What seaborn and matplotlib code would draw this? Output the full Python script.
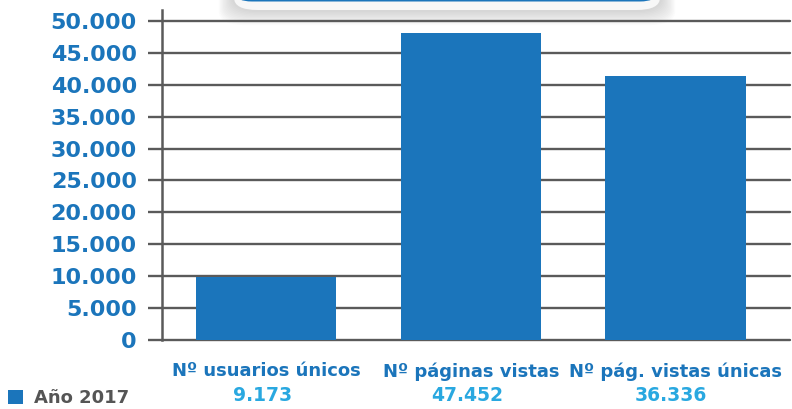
import matplotlib
matplotlib.use("Agg")
import matplotlib.pyplot as plt
import seaborn as sns
from matplotlib.patches import FancyBboxPatch, Patch

# data
categorias = ["Nº usuarios únicos", "Nº páginas vistas", "Nº pág. vistas únicas"]
valores = [9900, 48100, 41400]
etiquetas_valor = ["9.173", "47.452", "36.336"]
serie = "Año 2017"
yticks = [0, 5000, 10000, 15000, 20000, 25000, 30000, 35000, 40000, 45000, 50000]
ytick_labels = ["0", "5.000", "10.000", "15.000", "20.000", "25.000", "30.000",
                "35.000", "40.000", "45.000", "50.000"]

azul = "#1b75bb"
celeste = "#29a8e0"
gris = "#5a5a5a"

sns.set_theme(style="white")
plt.rcParams['font.family'] = ['DejaVu Sans']

W, H = 792, 409
fig = plt.figure(figsize=(W / 100, H / 100), dpi=100)
ax = fig.add_axes([162 / W, 1 - 340 / H, 628 / W, 330 / H])
ax.patch.set_alpha(0)

df_barras = {"cat": categorias, "val": valores, "serie": [serie] * len(valores)}
sns.barplot(x="cat", y="val", hue="serie", data=df_barras, palette=[azul],
            width=0.685, dodge=False, saturation=1, ax=ax, zorder=3,
            edgecolor="none", linewidth=0)

ax.set_xlim(-0.51, 2.56)
ax.set_ylim(0, 51700)
ax.set_yticks(yticks)
ax.set_yticklabels(ytick_labels)
ax.set_xlabel("")
ax.set_ylabel("")

# grid and spines
ax.yaxis.grid(True, color=gris, linewidth=1.7, zorder=1)
ax.xaxis.grid(False)
ax.set_axisbelow(True)
for gl in ax.get_ygridlines():
    gl.set_clip_on(False)
for s in ["top", "right", "bottom"]:
    ax.spines[s].set_visible(False)
ax.spines["left"].set_color(gris)
ax.spines["left"].set_linewidth(1.8)

ax.tick_params(axis="y", length=10, width=1.7, color=gris, direction="out",
               pad=8, labelsize=16, labelcolor=azul, left=True)
for t in ax.get_yticklabels():
    t.set_fontweight("bold")

ax.tick_params(axis="x", length=0, pad=16, labelsize=13, labelcolor=azul)
for t in ax.get_xticklabels():
    t.set_fontweight("bold")

for i, txt in enumerate(etiquetas_valor):
    ax.annotate(txt, xy=(i, 0), xycoords=("data", "axes fraction"),
                xytext=(-3, -40), textcoords="offset points",
                ha="center", va="center", fontsize=13.5, fontweight="bold",
                color=celeste)

# legend in the lower left corner
ax.get_legend().remove()
fig.legend(handles=[Patch(facecolor=azul, edgecolor="none")], labels=[serie],
           loc="center left", bbox_to_anchor=(8 / W, 1 - 398 / H), frameon=False,
           borderpad=0, borderaxespad=0,
           handlelength=0.85, handleheight=0.85, handletextpad=0.6,
           prop={"weight": "bold", "size": 13}, labelcolor="#555555")

# cut-off title box at the top, with a soft shadow
for k in range(12):
    grow = 1.2 * k
    sh = FancyBboxPatch(((232 - grow) / W, 1 - (12 + grow) / H),
                        (430 + 2 * grow) / W, 60 / H,
                        boxstyle="round,pad=0,rounding_size=0.035",
                        transform=fig.transFigure, facecolor="#9a9a9a",
                        edgecolor="none", alpha=0.035, zorder=-3)
    fig.patches.append(sh)
panel = FancyBboxPatch((234 / W, 1 - 10 / H), 426 / W, 60 / H,
                       boxstyle="round,pad=0,rounding_size=0.03",
                       transform=fig.transFigure, facecolor="#f7f7f7",
                       edgecolor="none", zorder=-2)
fig.patches.append(panel)
caja = FancyBboxPatch((236 / W, 1 - 1.5 / H), 420 / W, 60 / H,
                      boxstyle="round,pad=0,rounding_size=0.02",
                      transform=fig.transFigure, facecolor=azul,
                      edgecolor="none", zorder=-1)
fig.patches.append(caja)

fig.savefig("out.png", dpi=100)
